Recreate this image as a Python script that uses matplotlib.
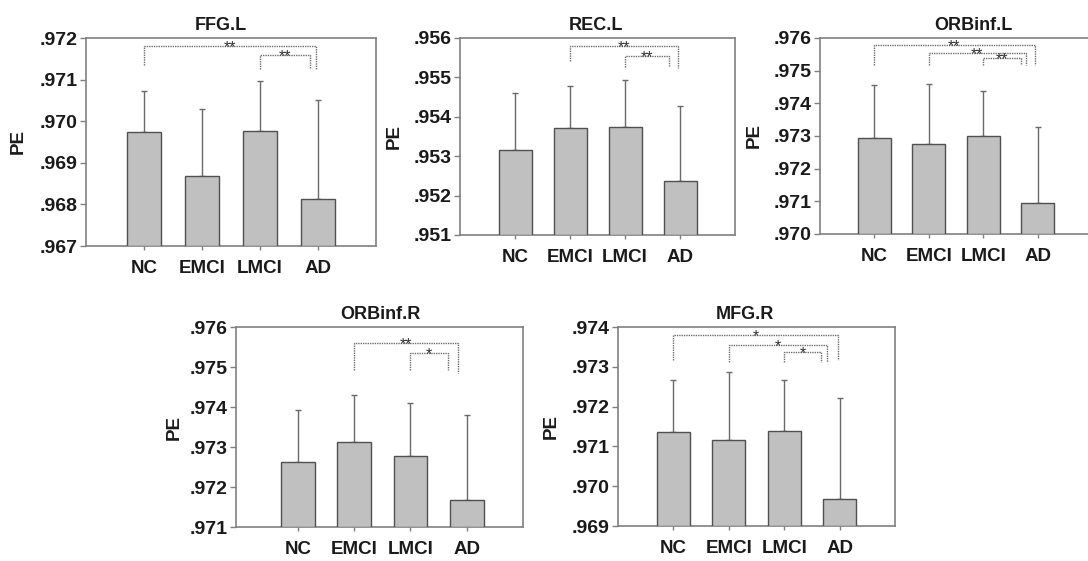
import matplotlib
matplotlib.use('Agg')
import matplotlib.pyplot as plt
from matplotlib.ticker import FuncFormatter, MultipleLocator

plt.rcParams['font.family'] = ['Liberation Sans', 'DejaVu Sans']

# ---------------- data ----------------
groups = ['NC', 'EMCI', 'LMCI', 'AD']

ffg_l_mean = [0.96975, 0.96869, 0.96977, 0.96813]
ffg_l_sd = [0.00097, 0.00160, 0.00119, 0.00238]

rec_l_mean = [0.95316, 0.95372, 0.95374, 0.95236]
rec_l_sd = [0.00145, 0.00106, 0.00120, 0.00192]

orbinf_l_mean = [0.97293, 0.97275, 0.97299, 0.97094]
orbinf_l_sd = [0.00162, 0.00184, 0.00139, 0.00234]

orbinf_r_mean = [0.97263, 0.97313, 0.97277, 0.97167]
orbinf_r_sd = [0.00130, 0.00118, 0.00134, 0.00213]

mfg_r_mean = [0.97137, 0.97117, 0.97139, 0.96969]
mfg_r_sd = [0.00131, 0.00169, 0.00127, 0.00253]

ffg_l_ylim = [0.967, 0.972]
rec_l_ylim = [0.951, 0.956]
orbinf_l_ylim = [0.970, 0.976]
orbinf_r_ylim = [0.971, 0.976]
mfg_r_ylim = [0.969, 0.974]

# significance comparisons: (group i, group j, label)
ffg_l_sig = [(0, 3, '**'), (2, 3, '**')]
rec_l_sig = [(1, 3, '**'), (2, 3, '**')]
orbinf_l_sig = [(0, 3, '**'), (1, 3, '**'), (2, 3, '**')]
orbinf_r_sig = [(1, 3, '**'), (2, 3, '*')]
mfg_r_sig = [(0, 3, '*'), (1, 3, '*'), (2, 3, '*')]

# ---------------- layout (styling only) ----------------
W, H = 1088, 561
panels = [
    dict(title='FFG.L', mean=ffg_l_mean, sd=ffg_l_sd, ylim=ffg_l_ylim, sig=ffg_l_sig,
         box=(86, 376, 38, 246), xlim=(0, 5), title_x=0.464, ylab_x=-0.205,
         br=[(0.962, 0.872, 0.852, -0.03), (0.918, 0.852, 0.852, -0.13)]),
    dict(title='REC.L', mean=rec_l_mean, sd=rec_l_sd, ylim=rec_l_ylim, sig=rec_l_sig,
         box=(460, 735, 38, 235), xlim=(0, 5), title_x=0.495, ylab_x=-0.21,
         br=[(0.958, 0.882, 0.848, -0.04), (0.910, 0.851, 0.856, -0.2)]),
    dict(title='ORBinf.L', mean=orbinf_l_mean, sd=orbinf_l_sd, ylim=orbinf_l_ylim, sig=orbinf_l_sig,
         box=(820, 1092, 38, 234), xlim=(0, 5), title_x=0.5625, ylab_x=-0.21,
         br=[(0.966, 0.863, 0.863, -0.055), (0.926, 0.863, 0.863, -0.22), (0.897, 0.863, 0.863, -0.31)]),
    dict(title='ORBinf.R', mean=orbinf_r_mean, sd=orbinf_r_sd, ylim=orbinf_r_ylim, sig=orbinf_r_sig,
         box=(236, 523, 327, 527), xlim=(-0.1, 5), title_x=0.505, ylab_x=-0.185,
         br=[(0.922, 0.783, 0.770, -0.16), (0.872, 0.783, 0.783, -0.34)]),
    dict(title='MFG.R', mean=mfg_r_mean, sd=mfg_r_sd, ylim=mfg_r_ylim, sig=mfg_r_sig,
         box=(618, 895, 327, 526), xlim=(0, 5), title_x=0.458, ylab_x=-0.21,
         br=[(0.958, 0.832, 0.832, -0.025), (0.908, 0.824, 0.824, -0.22), (0.874, 0.824, 0.824, -0.33)]),
]

SPINE = '#808080'
BAR_FACE = '#c0c0c0'
BAR_EDGE = '#505050'
ERR = '#6a6a6a'
BR = '#6e6e6e'
TXT = '#1a1a1a'

fig = plt.figure(figsize=(W / 100, H / 100), dpi=100)
fmt = FuncFormatter(lambda v, p: ('%.3f' % v).lstrip('0'))
xpos = [1, 2, 3, 4]

for p in panels:
    l, r, t, b = p['box']
    ax = fig.add_axes([l / W, 1 - b / H, (r - l) / W, (b - t) / H])
    y0, y1 = p['ylim']
    ax.set_xlim(*p['xlim'])
    ax.set_ylim(y0, y1)
    heights = [m - y0 for m in p['mean']]
    ax.bar(xpos, heights, bottom=y0, width=0.6, color=BAR_FACE, edgecolor=BAR_EDGE,
           linewidth=1.0, zorder=3)
    ax.errorbar(xpos, p['mean'], yerr=[[0] * 4, p['sd']], fmt='none', ecolor=ERR,
                elinewidth=1.0, capsize=2.5, capthick=1.0, zorder=2)
    ax.set_xticks(xpos)
    ax.set_xticklabels(groups, fontsize=13.5, fontweight='bold', color=TXT)
    ax.yaxis.set_major_locator(MultipleLocator(0.001))
    ax.yaxis.set_major_formatter(fmt)
    for lab in ax.get_yticklabels():
        lab.set_fontsize(14)
        lab.set_fontweight('bold')
        lab.set_color(TXT)
    ax.tick_params(axis='y', direction='out', length=4, width=1, color=SPINE, pad=2)
    ax.tick_params(axis='x', direction='out', length=3, width=1, color=SPINE, pad=7)
    for s in ax.spines.values():
        s.set_color(SPINE)
        s.set_linewidth(1.2)
    ax.set_title(p['title'], fontsize=13, fontweight='bold', x=p['title_x'], pad=6, color=TXT)
    ax.set_ylabel('PE', fontsize=13.5, fontweight='bold', color=TXT)
    ax.yaxis.set_label_coords(p['ylab_x'], 0.5)

    span = y1 - y0
    for (i, j, lab), (ftop, fl, fr, roff) in zip(p['sig'], p['br']):
        xl = xpos[i]
        xr = xpos[j] + roff
        yt = y0 + ftop * span
        yl = y0 + fl * span
        yr = y0 + fr * span
        ax.plot([xl, xl, xr, xr], [yl, yt, yt, yr], color=BR, lw=1.0,
                linestyle=(0, (1, 0.7)), zorder=4)
        ax.annotate(lab, ((xl + xr) / 2, yt), xytext=(0, -4.5), textcoords='offset points',
                    ha='center', va='baseline', fontsize=11.5, color='#333333', zorder=5)

fig.savefig('out.png', dpi=100)
